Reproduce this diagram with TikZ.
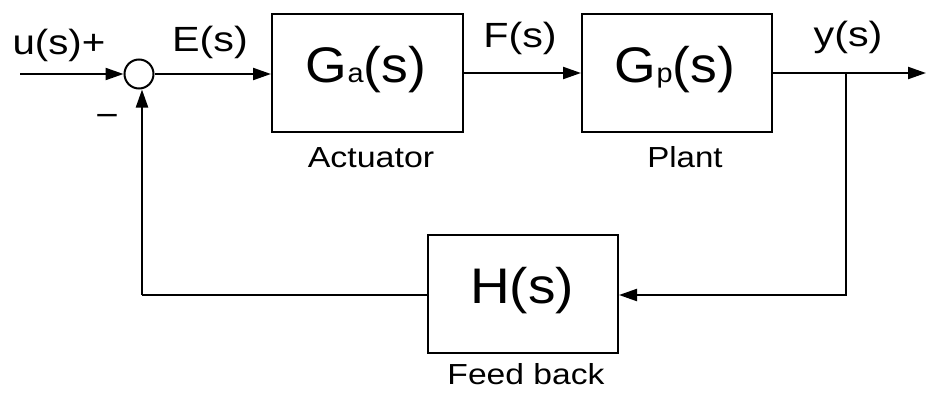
\documentclass[tikz,border=0pt]{standalone}
\usepackage{fontspec}
\usepackage{graphicx}
\setmainfont{Liberation Sans}
\usetikzlibrary{arrows.meta}
% slightly widened lettering
\newcommand{\widetxt}[2]{\scalebox{#1}[1]{#2}}
\begin{document}
\begin{tikzpicture}[x=1pt,y=-1pt,
  wire/.style={line width=2.2pt,-{Triangle[length=18pt,width=12pt]}},
  plain/.style={line width=2.2pt},
  blockbox/.style={draw,line width=2pt,inner sep=0pt},
  sumnode/.style={draw,circle,line width=2pt,minimum size=29pt,inner sep=0pt},
  sig/.style={font=\fontsize{35}{40}\selectfont},
  big/.style={font=\fontsize{50}{56}\selectfont},
  caption/.style={font=\fontsize{29}{32}\selectfont}]
\useasboundingbox (0,0) rectangle (926,394);

% summing junction and blocks
\node[sumnode] (sum) at (139,74) {};
\node[blockbox,minimum width=191pt,minimum height=118pt] (ga) at (367.5,73) {};
\node[blockbox,minimum width=190pt,minimum height=118pt] (gp) at (677,73) {};
\node[blockbox,minimum width=190pt,minimum height=118pt] (h) at (523,294) {};

% block contents
\node[big] (gat) at (366,70) {\widetxt{1.07}{G{\fontsize{27}{30}\selectfont a}(s)}};
\node[big] (gpt) at (675,70) {\widetxt{1.07}{G{\fontsize{27}{30}\selectfont p}(s)}};
\node[big] (ht) at (522,291) {\widetxt{1.1}{H(s)}};

% captions
\node[caption] (cap1) at (371,158) {\widetxt{1.17}{Actuator}};
\node[caption] (cap2) at (685,157) {\widetxt{1.14}{Plant}};
\node[caption] (cap3) at (526,374) {\widetxt{1.16}{Feed back}};

% signal labels
\node[sig] (ul) at (59,45) {\widetxt{1.15}{u(s)+}};
\node[sig] (el) at (210,42) {\widetxt{1.18}{E(s)}};
\node[sig] (fl) at (520,38) {\widetxt{1.18}{F(s)}};
\node[sig] (yl) at (848,37) {\widetxt{1.18}{y(s)}};
\node[sig] (minus) at (107,119) {–};

% connector points
\coordinate (in) at (20,74);
\coordinate (out) at (926,73);
\coordinate (br) at (846,73);
\coordinate (brd) at (846,295);
\coordinate (fbl) at (142,295);

% forward path
\draw[wire] (in) -- (sum.west);
\draw[wire] (sum.east) -- (ga.west |- sum.east);
\draw[wire] (ga.east) -- (gp.west);
\draw[wire] (gp.east) -- (out);

% feedback path
\draw[wire] (br) -- (brd) -- (h.east |- brd);
\draw[plain] (h.west |- fbl) -- (fbl);
\draw[wire] (fbl) -- (fbl |- sum.south);
\end{tikzpicture}
\end{document}
